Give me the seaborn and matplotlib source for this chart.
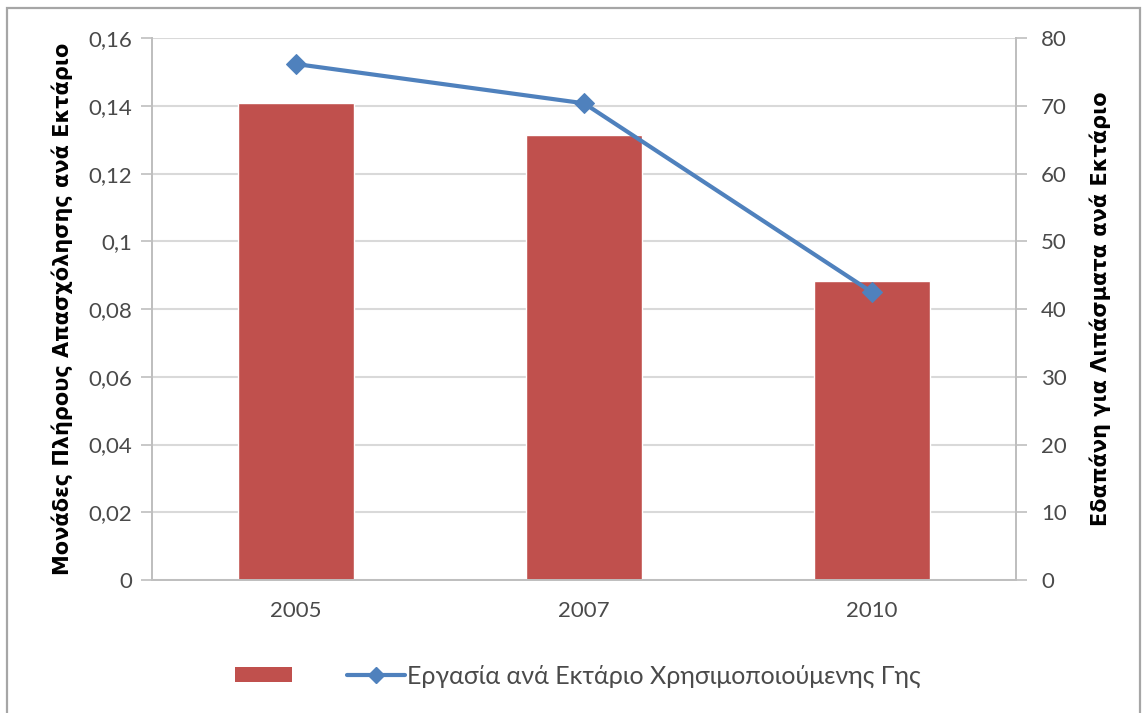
import numpy as np
import matplotlib
matplotlib.use('Agg')
import matplotlib.pyplot as plt
import matplotlib.patches as mpatches
from matplotlib.lines import Line2D
from matplotlib.ticker import FuncFormatter, MultipleLocator, FixedLocator
import seaborn as sns
import pandas as pd

sns.set_style('white')
plt.rcParams['font.family'] = ['Liberation Sans Narrow', 'Lato', 'DejaVu Sans']

# δεδομένα (εκτίμηση από το γράφημα)
years = ['2005', '2007', '2010']
fte_per_ha = [0.141, 0.1315, 0.0883]      # αριστερός άξονας (στήλες)
fert_per_ha = [76.2, 70.4, 42.5]          # δεξιός άξονας (γραμμή)
left_label = 'Μονάδες Πλήρους Απασχόλησης ανά Εκτάριο'
right_label = 'Εδαπάνη για Λιπάσματα ανά Εκτάριο'
line_label = 'Εργασία ανά Εκτάριο Χρησιμοποιούμενης Γης'

bar_color = '#C0504D'
line_color = '#4F81BD'
grid_color = '#D9D9D9'
axis_color = '#BFBFBF'
text_color = '#4A4A4A'

df = pd.DataFrame({'year': years, 'fte': fte_per_ha, 'fert': fert_per_ha})
df['pos'] = np.arange(len(df))

fig = plt.figure(figsize=(11.44, 7.13), dpi=100)
ax = fig.add_axes([0.1329, 0.1865, 0.7552, 0.7598])

# εξωτερικό πλαίσιο
fig.patches.append(mpatches.Rectangle((7 / 1144, -0.01), 1133 / 1144, 1 - 8 / 713 + 0.01,
                                      transform=fig.transFigure, fill=False,
                                      edgecolor='#A6A6A6', linewidth=1.6, zorder=0))

sns.barplot(data=df, x='year', y='fte', color=bar_color, width=0.4,
            saturation=1, ax=ax, zorder=3)
ax.set_xlim(-0.5, 2.5)
ax.set_ylim(0, 0.16)
ax.yaxis.set_major_locator(MultipleLocator(0.02))
ax.yaxis.set_major_formatter(FuncFormatter(lambda v, p: ('%g' % round(v, 2)).replace('.', ',')))
ax.grid(axis='y', color=grid_color, linewidth=1.5, zorder=0)
ax.set_axisbelow(True)
ax.set_xlabel('')
ax.set_ylabel(left_label, fontsize=15, fontweight='bold', color='black', labelpad=11,
              family=['DejaVu Sans'])

ax.xaxis.set_minor_locator(FixedLocator([-0.5, 0.5, 1.5, 2.5]))
ax.tick_params(axis='x', which='major', length=0, pad=15, labelsize=16, labelcolor=text_color)
ax.tick_params(axis='x', which='minor', length=8, width=1.2, color=axis_color, direction='out')
ax.tick_params(axis='y', length=8, width=1.2, color=axis_color, direction='out',
               labelsize=16, labelcolor=text_color, pad=6)
ax.spines['top'].set_visible(False)
for s in ['left', 'bottom', 'right']:
    ax.spines[s].set_color(axis_color)
    ax.spines[s].set_linewidth(1.4)

ax2 = ax.twinx()
sns.lineplot(data=df, x='pos', y='fert', color=line_color, linewidth=3,
             marker='D', markersize=10, markeredgecolor=line_color, ax=ax2, zorder=4)
ax2.set_ylim(0, 80)
ax2.set_xlim(-0.5, 2.5)
ax2.yaxis.set_major_locator(MultipleLocator(10))
ax2.set_xlabel('')
ax2.set_ylabel(right_label, fontsize=15, fontweight='bold', color='black', labelpad=16,
               family=['DejaVu Sans'])
ax2.tick_params(axis='y', length=8, width=1.2, color=axis_color, direction='out',
                labelsize=16, labelcolor=text_color, pad=10)
ax2.spines['top'].set_visible(False)
for s in ['left', 'bottom', 'right']:
    ax2.spines[s].set_color(axis_color)
    ax2.spines[s].set_linewidth(1.4)

handles = [mpatches.Patch(facecolor=bar_color, edgecolor='none'),
           Line2D([], [], color=line_color, linewidth=3, marker='D', markersize=8)]
fig.legend(handles, ['', line_label], loc='center', bbox_to_anchor=(0.505, 0.052), ncol=2,
           frameon=False, fontsize=18, handlelength=2.3, handleheight=0.6,
           columnspacing=2.1, handletextpad=0.1, labelcolor=text_color)

fig.savefig('out.png', dpi=100)
